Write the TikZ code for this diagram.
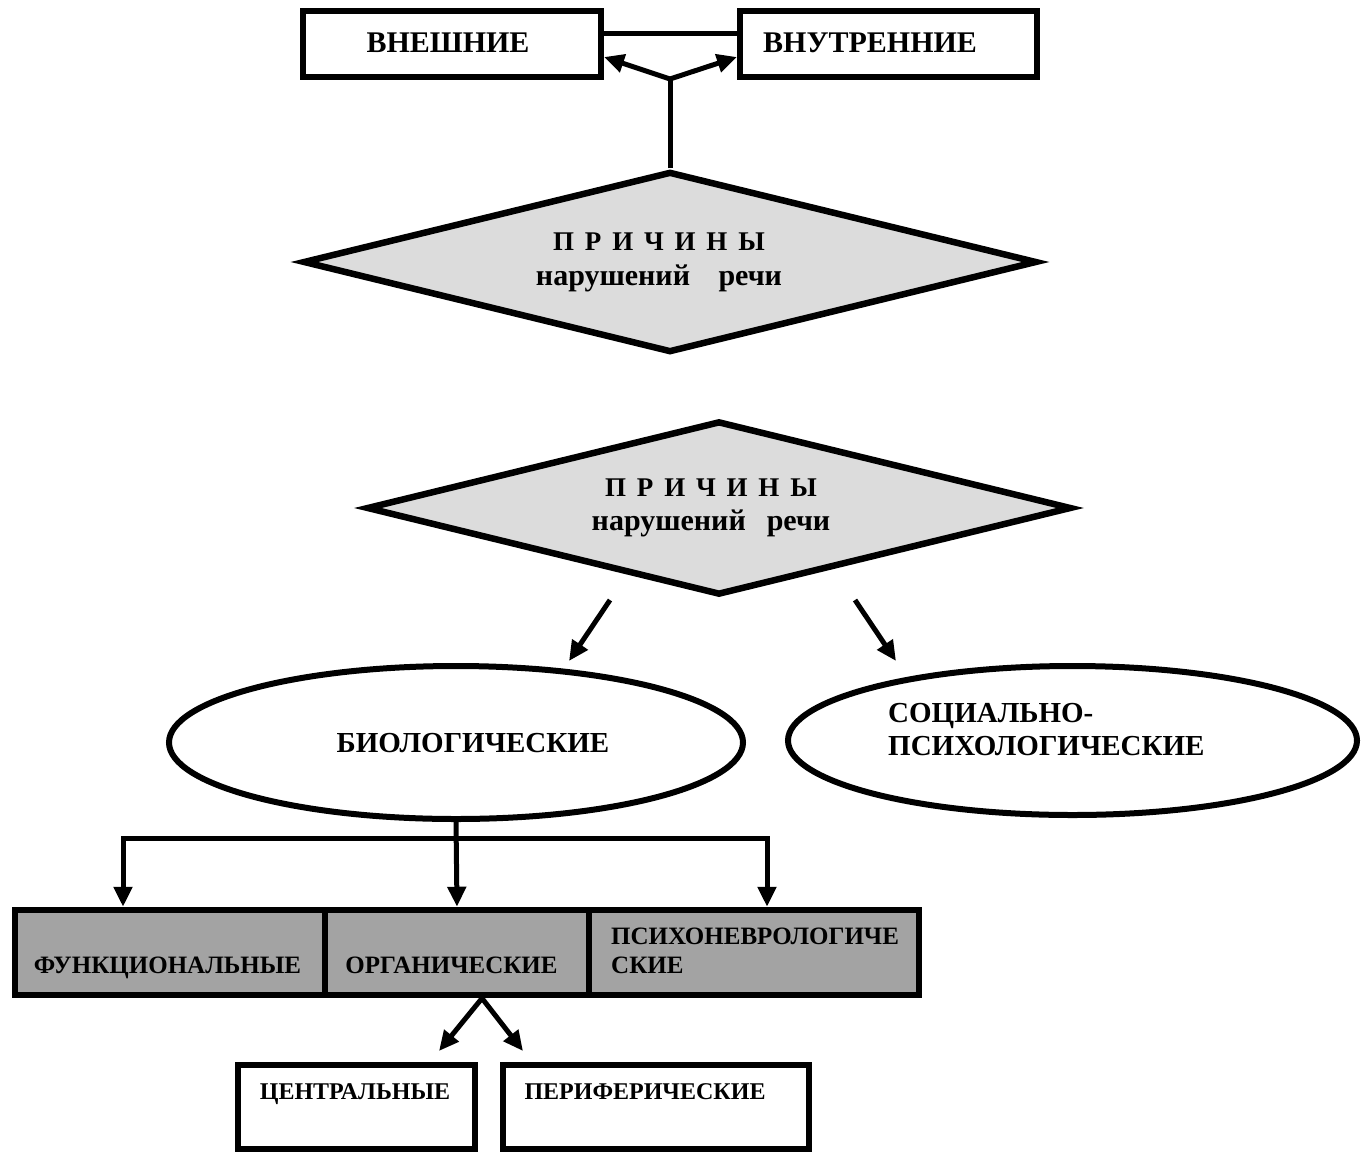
\documentclass[tikz,border=0pt]{standalone}
\usepackage{fontspec}
\setmainfont{Liberation Serif}
\usetikzlibrary{shapes.geometric,arrows.meta,calc}
\definecolor{diamondfill}{HTML}{DCDCDC}
\definecolor{rowfill}{HTML}{A3A3A3}
\begin{document}
\begin{tikzpicture}[x=1pt,y=-1pt,
  box/.style={draw=black,line width=6pt,rectangle,inner sep=0pt},
  rowbox/.style={box,fill=rowfill,line width=6.5pt},
  choice/.style={draw=black,line width=6.5pt,diamond,fill=diamondfill,inner sep=0pt},
  oval/.style={draw=black,line width=6pt,ellipse,inner sep=0pt},
  txt/.style={inner sep=0pt,anchor=base,font=\bfseries\fontsize{#1}{#1}\selectfont},
  link/.style={line width=5pt},
  arr/.style={line width=5pt,-{Triangle[length=20pt,width=18pt]}},
]
\useasboundingbox (0,0) rectangle (1363,1157);

% --- top part: causes split into external and internal ---
\node[box,minimum width=298pt,minimum height=66pt] (vnesh) at (452,44) {};
\node[box,minimum width=297pt,minimum height=66pt] (vnutr) at (888.5,44) {};
\node[txt=30] (tvnesh) at (448,52) {ВНЕШНИЕ};
\node[txt=30,anchor=base west] (tvnutr) at (763,52) {ВНУТРЕННИЕ};

\node[choice,minimum width=734pt,minimum height=181pt] (d1) at (670,262) {};
\node[txt=27] (d1a) at (659,250) {П\hspace{0.4em}Р\hspace{0.4em}И\hspace{0.4em}Ч\hspace{0.4em}И\hspace{0.4em}Н\hspace{0.4em}Ы};
\node[txt=30] (d1b) at (659,285) {нарушений\hspace{0.95em}речи};

\draw[link] ([yshift=11pt]vnesh.east) -- ([yshift=11pt]vnutr.west);
\coordinate (jn) at (670,79);
\draw[link] (d1.north) -- (jn);
\draw[arr] (jn) -- ([yshift=-13pt]vnesh.east);
\draw[arr] (jn) -- ([yshift=-13pt]vnutr.west);

% --- lower part: biological and socio-psychological causes ---
\node[choice,minimum width=705pt,minimum height=174pt] (d2) at (719,508) {};
\node[txt=27] (d2a) at (711,496) {П\hspace{0.4em}Р\hspace{0.4em}И\hspace{0.4em}Ч\hspace{0.4em}И\hspace{0.4em}Н\hspace{0.4em}Ы};
\node[txt=30] (d2b) at (711,530) {нарушений\hspace{0.7em}речи};

\node[oval,minimum width=574pt,minimum height=153pt] (bio) at (456,742.5) {};
\node[txt=29] (tbio) at (473,752.5) {БИОЛОГИЧЕСКИЕ};
\node[oval,minimum width=569pt,minimum height=149pt] (soc) at (1072.5,740.5) {};
\node[txt=29,anchor=base west] (tsoc1) at (888,722.5) {СОЦИАЛЬНО-};
\node[txt=29,anchor=base west] (tsoc2) at (888,755.5) {ПСИХОЛОГИЧЕСКИЕ};

\coordinate (s1) at (610,600);
\coordinate (e1) at (569,661);
\coordinate (s2) at (855,600);
\coordinate (e2) at (896,661);
\draw[arr] (s1) -- (e1);
\draw[arr] (s2) -- (e2);

% --- row of biological causes ---
\node[rowbox,minimum width=310pt,minimum height=85pt] (func) at (170,952.5) {};
\node[rowbox,minimum width=264pt,minimum height=85pt] (org) at (457,952.5) {};
\node[rowbox,minimum width=330pt,minimum height=85pt] (psy) at (754,952.5) {};
\node[txt=25] (tfunc) at (167.5,973.5) {ФУНКЦИОНАЛЬНЫЕ};
\node[txt=25] (torg) at (451.5,973.5) {ОРГАНИЧЕСКИЕ};
\node[txt=25,anchor=base west] (tpsy1) at (611,944.5) {ПСИХОНЕВРОЛОГИЧЕ};
\node[txt=25,anchor=base west] (tpsy2) at (611,973.5) {СКИЕ};

\coordinate (br) at (457,838);
\draw[arr] (bio.south) -- (org.north);
\draw[arr] (br) -| ([xshift=-47pt]func.north);
\draw[arr] (br) -| ([xshift=13pt]psy.north);

% --- organic causes: central and peripheral ---
\node[box,minimum width=237pt,minimum height=84pt] (cen) at (356.5,1107) {};
\node[box,minimum width=306pt,minimum height=84pt] (per) at (656,1107) {};
\node[txt=24] (tcen) at (355,1099) {ЦЕНТРАЛЬНЫЕ};
\node[txt=24] (tper) at (645,1099) {ПЕРИФЕРИЧЕСКИЕ};

\coordinate (os) at ([xshift=25pt]org.south);
\coordinate (ec) at (439,1051);
\coordinate (ep) at (523,1051);
\draw[arr] (os) -- (ec);
\draw[arr] (os) -- (ep);
\end{tikzpicture}
\end{document}
